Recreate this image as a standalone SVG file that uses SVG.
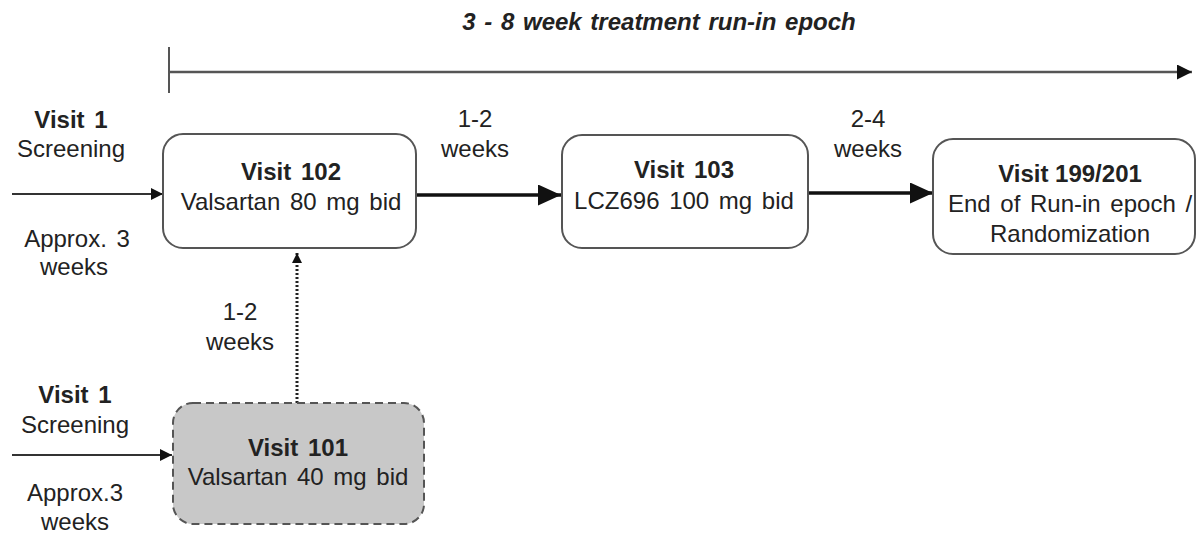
<svg xmlns="http://www.w3.org/2000/svg" width="1198" height="535" viewBox="0 0 1198 535">
<style>
text{font-family:"Liberation Sans",Arial,sans-serif;font-size:24px;fill:#222;text-anchor:middle}
.b{font-weight:bold}
.w{word-spacing:3px}
.t{font-weight:bold;font-style:italic;font-size:24px;word-spacing:2px}
.box{fill:#fff;stroke:#555;stroke-width:2}
.dbox{fill:#c8c8c8;stroke:#555;stroke-width:2;stroke-dasharray:8 5}
.thin{stroke:#333;stroke-width:2;fill:none}
.thick{stroke:#111;stroke-width:3.5;fill:none}
.dot{stroke:#222;stroke-width:3;fill:none;stroke-dasharray:2 2}
</style>
<defs>
<marker id="ah" viewBox="0 0 12 12" refX="12" refY="6" markerWidth="12" markerHeight="12" markerUnits="userSpaceOnUse" orient="auto"><path d="M0,0L12,6L0,12z" fill="#111"/></marker>
<marker id="ahb" viewBox="0 0 23 21" refX="23" refY="10.5" markerWidth="23" markerHeight="21" markerUnits="userSpaceOnUse" orient="auto"><path d="M0,0L23,10.5L0,21z" fill="#111"/></marker>
<marker id="aht" viewBox="0 0 15 15" refX="15" refY="7.5" markerWidth="15" markerHeight="15" markerUnits="userSpaceOnUse" orient="auto"><path d="M0,0L15,7.5L0,15z" fill="#111"/></marker>
<marker id="ahd" viewBox="0 0 10 10" refX="10" refY="5" markerWidth="10" markerHeight="10" markerUnits="userSpaceOnUse" orient="auto"><path d="M0,0L10,5L0,10z" fill="#111"/></marker>
</defs>
<g id="title"><text class="t" x="659" y="30">3 - 8 week treatment run-in epoch</text></g>
<g id="timeline">
<line x1="169" y1="47" x2="169" y2="93" stroke="#555" stroke-width="2"/>
<line x1="169" y1="72" x2="1192" y2="72" stroke="#555" stroke-width="2.5" marker-end="url(#aht)"/>
</g>
<g id="connectors">
<line class="thin" x1="12" y1="194" x2="163" y2="194" marker-end="url(#ah)"/>
<line class="thin" x1="12" y1="455" x2="172" y2="455" marker-end="url(#ah)"/>
<line class="thick" x1="416" y1="195" x2="561" y2="195" marker-end="url(#ahb)"/>
<line class="thick" x1="808" y1="193" x2="933" y2="193" marker-end="url(#ahb)"/>
<line class="dot" x1="297" y1="403" x2="297" y2="253" marker-end="url(#ahd)"/>
</g>
<g id="labels">
<text class="b w" x="71" y="128">Visit 1</text>
<text x="71" y="157">Screening</text>
<text class="w" x="77" y="247">Approx. 3</text>
<text x="74" y="275">weeks</text>
<text x="475" y="127">1-2</text>
<text x="475" y="157">weeks</text>
<text x="868" y="127">2-4</text>
<text x="868" y="157">weeks</text>
<text x="240" y="320">1-2</text>
<text x="240" y="350">weeks</text>
<text class="b w" x="75" y="403">Visit 1</text>
<text x="75" y="433">Screening</text>
<text x="75" y="501">Approx.3</text>
<text x="75" y="530">weeks</text>
</g>
<g id="visit102">
<rect class="box" x="163" y="134" width="253" height="114" rx="20"/>
<text class="b w" x="291" y="180">Visit 102</text>
<text class="w" x="291" y="210">Valsartan 80 mg bid</text>
</g>
<g id="visit103">
<rect class="box" x="562" y="135" width="246" height="113" rx="20"/>
<text class="b w" x="684" y="178">Visit 103</text>
<text class="w" x="684" y="209">LCZ696 100 mg bid</text>
</g>
<g id="visit199">
<rect class="box" x="933" y="139" width="262" height="115" rx="20"/>
<text class="b" x="1070" y="182">Visit 199/201</text>
<text class="w" x="1070" y="212">End of Run-in epoch /</text>
<text x="1070" y="242">Randomization</text>
</g>
<g id="visit101">
<rect class="dbox" x="173" y="403" width="251" height="121" rx="20"/>
<text class="b w" x="298" y="456">Visit 101</text>
<text class="w" x="298" y="485">Valsartan 40 mg bid</text>
</g>
</svg>
